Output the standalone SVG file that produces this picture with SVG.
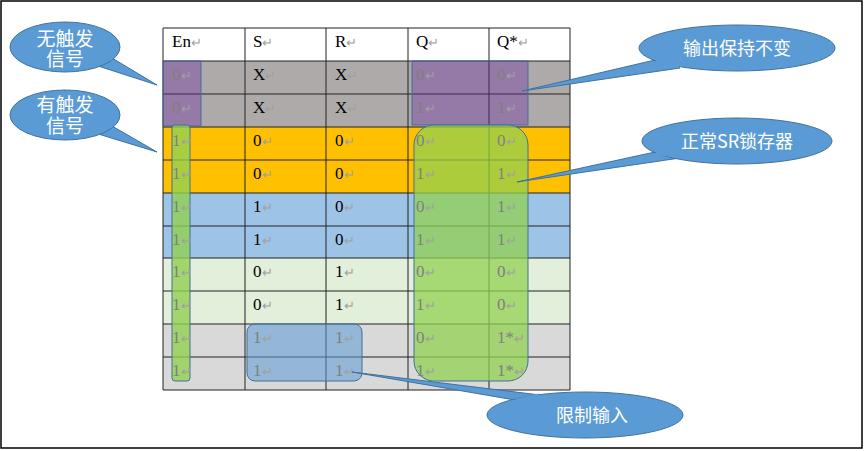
<svg xmlns="http://www.w3.org/2000/svg" width="865" height="451" viewBox="0 0 865 451">
<style>
.c{font-family:"Liberation Serif",serif;font-size:17px;fill:#000}
.g{fill:#7f7f7f}
.m{fill:#a0a0a0;font-size:13px}
.grid{stroke:#222;stroke-width:1;fill:none}
.call{fill:#5b9bd5;stroke:#41719c;stroke-width:1}
.ct{font-family:"Noto Sans CJK SC",sans-serif;font-size:18px;fill:#fff;text-anchor:middle}
.cs{font-size:19px}
</style>
<rect x="1" y="1" width="861" height="447" fill="#fff" stroke="#000" stroke-width="1.5"/>
<g id="table">
<rect x="163" y="28" width="407" height="33" fill="#fff"/>
<rect x="163" y="61" width="407" height="66" fill="#aeaaaa"/>
<rect x="163" y="127" width="407" height="66" fill="#ffc000"/>
<rect x="163" y="193" width="407" height="65" fill="#9dc3e6"/>
<rect x="163" y="258" width="407" height="66" fill="#e2efda"/>
<rect x="163" y="324" width="407" height="66" fill="#d9d9d9"/>
<path class="grid" d="M163 28H570V390H163Z M245 28V390 M326 28V390 M408 28V390 M489 28V390 M163 61H570 M163 94H570 M163 127H570 M163 160H570 M163 193H570 M163 226H570 M163 258H570 M163 291H570 M163 324H570 M163 357H570"/>
</g>
<g id="overlays">
<rect x="163" y="61" width="38" height="65" fill="#7030a0" fill-opacity="0.4" stroke="#41719c"/>
<rect x="412" y="61" width="116" height="64" fill="#7030a0" fill-opacity="0.4" stroke="#41719c"/>
<rect x="172" y="125" width="18" height="256" rx="3" fill="#92d050" fill-opacity="0.8" stroke="#41719c"/>
<rect x="414" y="125" width="114" height="256" rx="20" fill="#92d050" fill-opacity="0.75" stroke="#41719c"/>
<rect x="247" y="324" width="115" height="57" rx="8" fill="#5b9bd5" fill-opacity="0.55" stroke="#41719c"/>
</g>
<g id="cells">
<text class="c" x="172" y="47">En<tspan class="m">↵</tspan></text>
<text class="c" x="253" y="47">S<tspan class="m">↵</tspan></text>
<text class="c" x="335" y="47">R<tspan class="m">↵</tspan></text>
<text class="c" x="416" y="47">Q<tspan class="m">↵</tspan></text>
<text class="c" x="497" y="47">Q*<tspan class="m">↵</tspan></text>
<g class="c">
<text x="172" y="80" class="c g">0<tspan class="m">↵</tspan></text><text x="253" y="80" class="c">X<tspan class="m">↵</tspan></text><text x="335" y="80" class="c">X<tspan class="m">↵</tspan></text><text x="416" y="80" class="c g">0<tspan class="m">↵</tspan></text><text x="497" y="80" class="c g">0<tspan class="m">↵</tspan></text>
<text x="172" y="113" class="c g">0<tspan class="m">↵</tspan></text><text x="253" y="113" class="c">X<tspan class="m">↵</tspan></text><text x="335" y="113" class="c">X<tspan class="m">↵</tspan></text><text x="416" y="113" class="c g">1<tspan class="m">↵</tspan></text><text x="497" y="113" class="c g">1<tspan class="m">↵</tspan></text>
<text x="172" y="146" class="c g">1<tspan class="m">↵</tspan></text><text x="253" y="146" class="c">0<tspan class="m">↵</tspan></text><text x="335" y="146" class="c">0<tspan class="m">↵</tspan></text><text x="416" y="146" class="c g">0<tspan class="m">↵</tspan></text><text x="497" y="146" class="c g">0<tspan class="m">↵</tspan></text>
<text x="172" y="179" class="c g">1<tspan class="m">↵</tspan></text><text x="253" y="179" class="c">0<tspan class="m">↵</tspan></text><text x="335" y="179" class="c">0<tspan class="m">↵</tspan></text><text x="416" y="179" class="c g">1<tspan class="m">↵</tspan></text><text x="497" y="179" class="c g">1<tspan class="m">↵</tspan></text>
<text x="172" y="212" class="c g">1<tspan class="m">↵</tspan></text><text x="253" y="212" class="c">1<tspan class="m">↵</tspan></text><text x="335" y="212" class="c">0<tspan class="m">↵</tspan></text><text x="416" y="212" class="c g">0<tspan class="m">↵</tspan></text><text x="497" y="212" class="c g">1<tspan class="m">↵</tspan></text>
<text x="172" y="245" class="c g">1<tspan class="m">↵</tspan></text><text x="253" y="245" class="c">1<tspan class="m">↵</tspan></text><text x="335" y="245" class="c">0<tspan class="m">↵</tspan></text><text x="416" y="245" class="c g">1<tspan class="m">↵</tspan></text><text x="497" y="245" class="c g">1<tspan class="m">↵</tspan></text>
<text x="172" y="277" class="c g">1<tspan class="m">↵</tspan></text><text x="253" y="277" class="c">0<tspan class="m">↵</tspan></text><text x="335" y="277" class="c">1<tspan class="m">↵</tspan></text><text x="416" y="277" class="c g">0<tspan class="m">↵</tspan></text><text x="497" y="277" class="c g">0<tspan class="m">↵</tspan></text>
<text x="172" y="310" class="c g">1<tspan class="m">↵</tspan></text><text x="253" y="310" class="c">0<tspan class="m">↵</tspan></text><text x="335" y="310" class="c">1<tspan class="m">↵</tspan></text><text x="416" y="310" class="c g">1<tspan class="m">↵</tspan></text><text x="497" y="310" class="c g">0<tspan class="m">↵</tspan></text>
<text x="172" y="343" class="c g">1<tspan class="m">↵</tspan></text><text x="253" y="343" class="c g">1<tspan class="m">↵</tspan></text><text x="335" y="343" class="c g">1<tspan class="m">↵</tspan></text><text x="416" y="343" class="c g">0<tspan class="m">↵</tspan></text><text x="497" y="343" class="c g">1*<tspan class="m">↵</tspan></text>
<text x="172" y="376" class="c g">1<tspan class="m">↵</tspan></text><text x="253" y="376" class="c g">1<tspan class="m">↵</tspan></text><text x="335" y="376" class="c g">1<tspan class="m">↵</tspan></text><text x="416" y="376" class="c g">1<tspan class="m">↵</tspan></text><text x="497" y="376" class="c g">1*<tspan class="m">↵</tspan></text>
</g>
</g>
<g id="connectors">
<path class="call" d="M95 65 L157 85 L112 58 Z"/>
<path class="call" d="M95 133 L157 152 L112 126 Z"/>
<path class="call" d="M655 60 L522 91 L680 68 Z"/>
<path class="call" d="M655 152 L517 182 L680 158 Z"/>
<path class="call" d="M515 400 L352 372 L540 395 Z"/>
</g>
<g id="callout1"><ellipse class="call" cx="65" cy="47" rx="55" ry="25"/><path d="M95 65 L112 58" stroke="#5b9bd5" stroke-width="3"/><text class="ct cs" x="65" y="46">无触发</text><text class="ct cs" x="65" y="66">信号</text></g>
<g id="callout2"><ellipse class="call" cx="65" cy="115" rx="55" ry="25"/><path d="M95 133 L112 126" stroke="#5b9bd5" stroke-width="3"/><text class="ct cs" x="65" y="112">有触发</text><text class="ct cs" x="65" y="133">信号</text></g>
<g id="callout3"><ellipse class="call" cx="737" cy="48" rx="98" ry="23"/><path d="M656 61 L679 67" stroke="#5b9bd5" stroke-width="3"/><text class="ct" x="737" y="55">输出保持不变</text></g>
<g id="callout4"><ellipse class="call" cx="737" cy="141" rx="95" ry="23"/><path d="M656 153 L679 157" stroke="#5b9bd5" stroke-width="3"/><text class="ct" x="737" y="148">正常SR锁存器</text></g>
<g id="callout5"><ellipse class="call" cx="585" cy="415" rx="98" ry="23"/><path d="M516 400 L539 395" stroke="#5b9bd5" stroke-width="3"/><text class="ct" x="592" y="422">限制输入</text></g>
</svg>
